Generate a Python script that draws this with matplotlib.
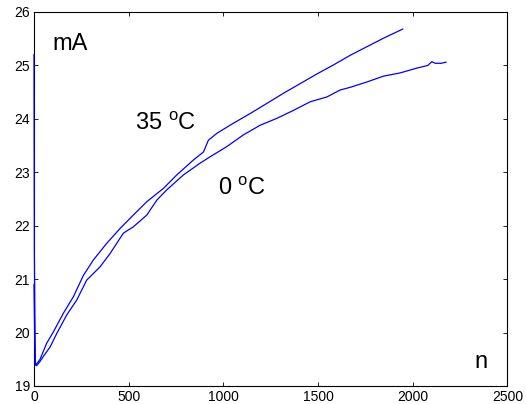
import numpy as np
import matplotlib
matplotlib.use('Agg')
import matplotlib.pyplot as plt

plt.rcParams['font.family'] = ['Liberation Sans', 'DejaVu Sans']
plt.rcParams['mathtext.fontset'] = 'custom'
plt.rcParams['mathtext.rm'] = 'Liberation Sans'

### Curve: 35 C
n_35 = [0, 2, 7, 20, 32, 67, 102, 155, 208, 261, 314, 384, 455, 525, 596,
        684, 754, 842, 895, 921, 966, 1054, 1142, 1230, 1318, 1406, 1494,
        1582, 1670, 1758, 1846, 1947]
i_35 = [25.2, 21.5, 19.39, 19.44, 19.50, 19.80, 20.01, 20.36, 20.67, 21.07,
        21.36, 21.67, 21.95, 22.20, 22.45, 22.70, 22.95, 23.23, 23.38,
        23.60, 23.73, 23.92, 24.10, 24.29, 24.48, 24.66, 24.84, 25.01,
        25.19, 25.35, 25.51, 25.68]

### Curve: 0 C
n_0 = [0, 4, 8, 14, 30, 49, 85, 120, 173, 226, 278, 349, 402, 472, 525,
       596, 649, 701, 789, 877, 930, 1018, 1106, 1194, 1283, 1371, 1459,
       1547, 1617, 1670, 1758, 1846, 1934, 2022, 2080, 2101, 2119, 2150,
       2176]
i_0 = [20.9, 19.8, 19.40, 19.38, 19.45, 19.55, 19.73, 19.98, 20.33, 20.61,
       20.98, 21.23, 21.48, 21.86, 21.98, 22.20, 22.48, 22.67, 22.95,
       23.17, 23.29, 23.48, 23.70, 23.88, 24.01, 24.16, 24.32, 24.41,
       24.54, 24.59, 24.69, 24.80, 24.86, 24.95, 25.00, 25.07, 25.04,
       25.04, 25.06]

### Figure
fig = plt.figure(figsize=(5.26, 4.04), dpi=100)
ax = fig.add_axes([0.0646, 0.0446, 0.9, 0.9257])

ax.plot(n_35, i_35, color='#0000ff', lw=0.9, zorder=3, clip_on=False)
ax.plot(n_0, i_0, color='#0000ff', lw=0.9, zorder=3, clip_on=False)

ax.set_xlim(0, 2500)
ax.set_ylim(19, 26)
ax.set_xticks(np.arange(0, 2501, 500))
ax.set_yticks(np.arange(19, 27, 1))

ax.tick_params(direction='in', length=3, width=0.6, labelsize=10,
               top=True, right=True, pad=3)
for s in ax.spines.values():
    s.set_linewidth(0.8)

### Labels inside the axes
ax.text(100, 25.40, 'mA', fontsize=17, va='center', ha='left')
ax.text(533, 23.91, r'35 $^{\mathrm{o}}$C', fontsize=17, va='center', ha='left')
ax.text(970, 22.70, r'0 $^{\mathrm{o}}$C', fontsize=17, va='center', ha='left')
ax.text(2328, 19.45, 'n', fontsize=17, va='center', ha='left')

fig.savefig('out.png', dpi=100)
